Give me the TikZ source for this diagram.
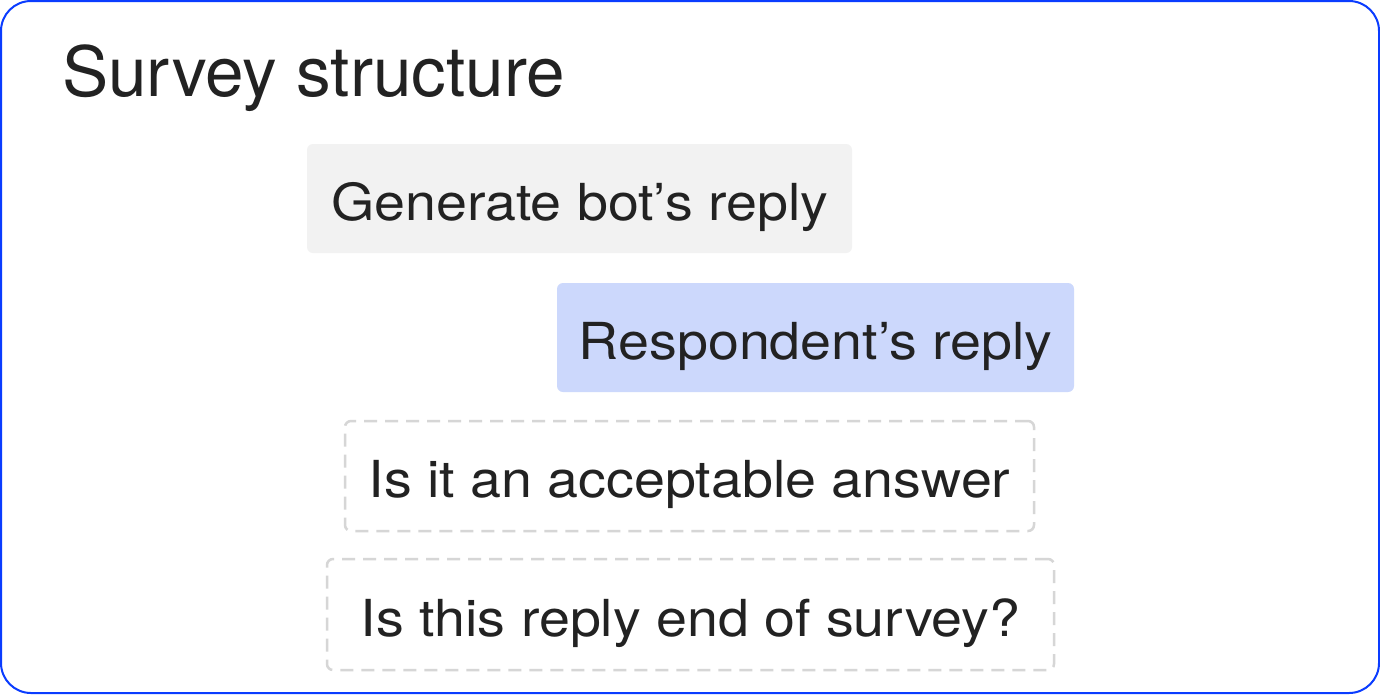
\documentclass[tikz,border=0pt]{standalone}
\usepackage{fontspec}
\setmainfont{TeX Gyre Heros}
\newfontfamily\boxfont[FakeStretch=1.09]{TeX Gyre Heros}
\definecolor{frameblue}{HTML}{0A3CFF}
\definecolor{txt}{HTML}{222222}
\definecolor{grayfill}{HTML}{F2F2F2}
\definecolor{bluefill}{HTML}{CCD8FC}
\definecolor{dashgray}{HTML}{D6D6D6}
\begin{document}
\begin{tikzpicture}[x=1pt,y=-1pt,
  boxbase/.style={rounded corners=6pt, inner sep=0pt, text height=43pt, text depth=0pt,
    font=\boxfont\fontsize{51}{60}\selectfont, text=txt, anchor=center},
  solidbox/.style={boxbase, fill=#1},
  dashbox/.style={boxbase, draw=dashgray, line width=2.5pt, dash pattern=on 13pt off 8pt}]
\useasboundingbox (0,0) rectangle (1380,694);
\draw[frameblue, line width=2pt, rounded corners=30pt, fill=white] (1,1) rectangle (1379,693);
\node[anchor=base west, inner sep=0pt, text=txt, font=\fontsize{69.3}{80}\selectfont] (title) at (62,96) {Survey structure};
\node[solidbox=grayfill, minimum width=545pt, minimum height=109pt] (gen) at (579.5,198.5) {Generate bot’s reply};
\node[solidbox=bluefill, minimum width=517pt, minimum height=109pt] (resp) at (815.5,337.5) {Respondent’s reply};
\node[dashbox, minimum width=689pt, minimum height=110pt] (acc) at (689.5,476) {Is it an acceptable answer};
\node[dashbox, minimum width=727pt, minimum height=111pt] (end) at (690.5,614.5) {Is this reply end of survey?};
\end{tikzpicture}
\end{document}
